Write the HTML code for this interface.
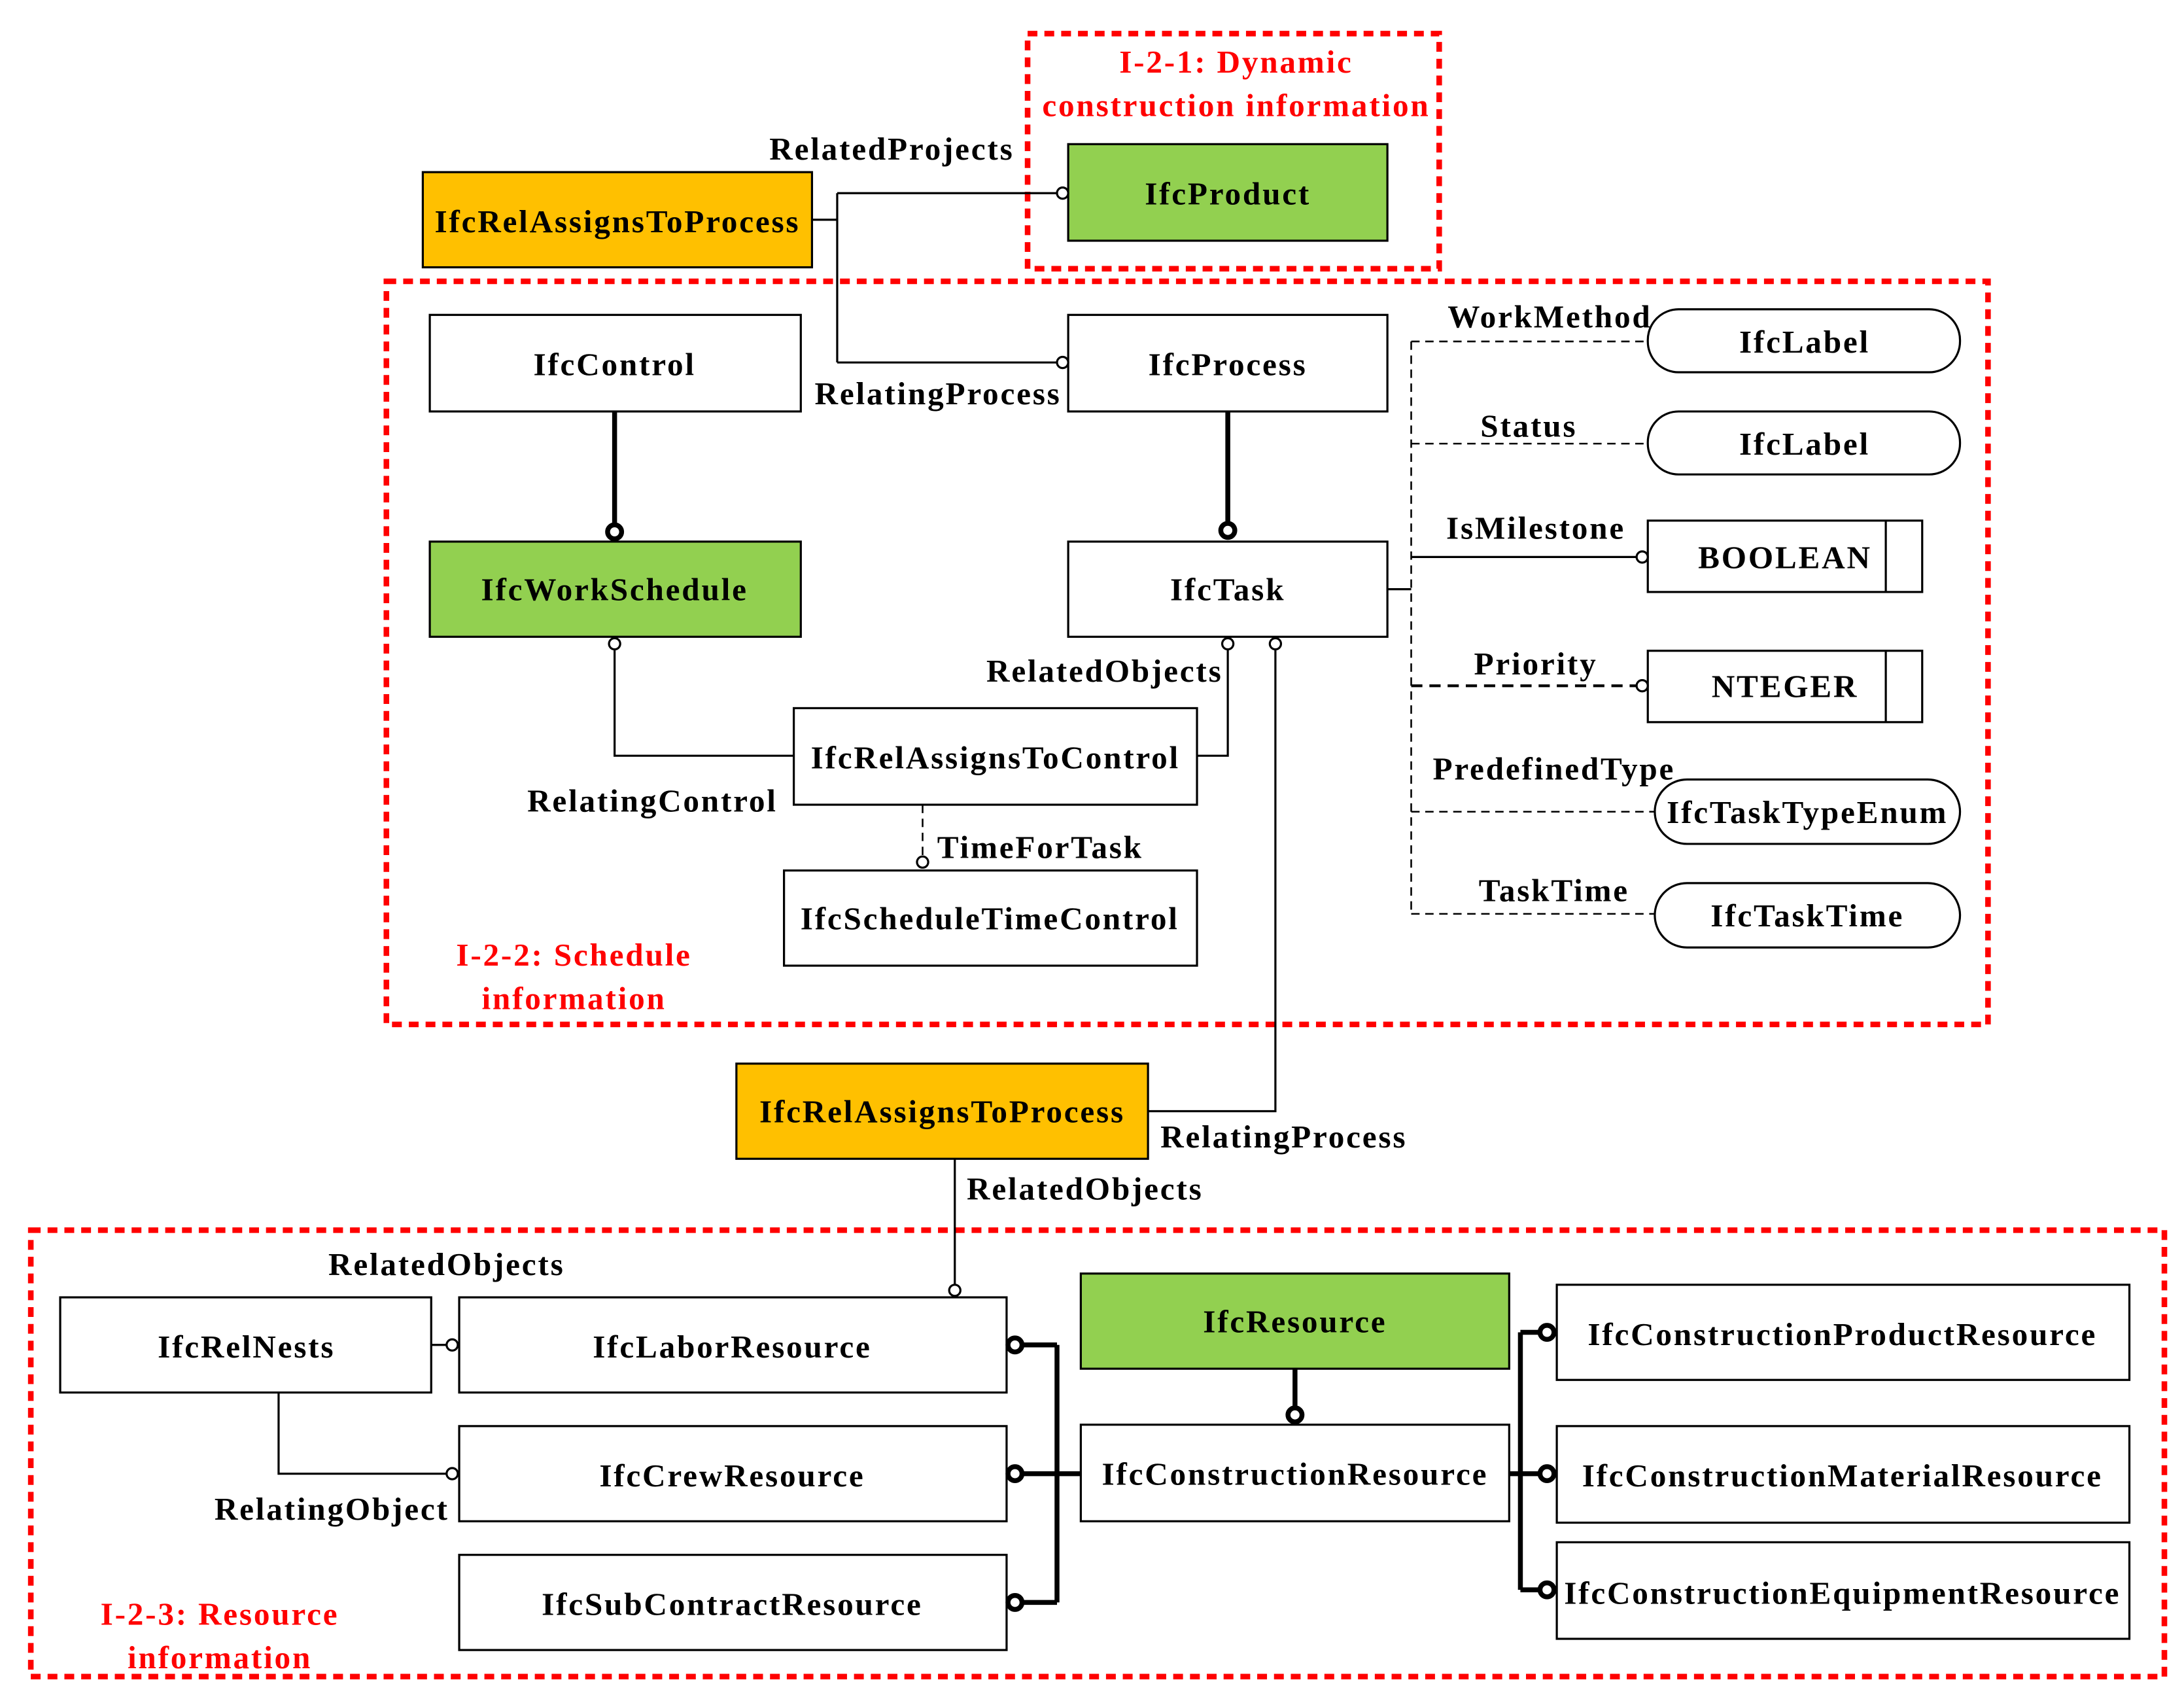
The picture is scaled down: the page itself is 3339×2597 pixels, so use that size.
<!DOCTYPE html>
<html><head><meta charset="utf-8"><style>html,body{margin:0;padding:0;background:#fff}svg{display:block}</style></head><body>
<svg width="3339" height="2597" viewBox="0 0 1560 1214" preserveAspectRatio="none" xmlns="http://www.w3.org/2000/svg" font-family="Liberation Serif, serif" font-weight="bold" font-size="23" letter-spacing="1.3">
<g fill="none" stroke="#f00" stroke-width="4" stroke-dasharray="7,5">
<rect x="734" y="24" width="294" height="168"/>
<rect x="276" y="201" width="1144" height="531"/>
<rect x="22" y="879" width="1524" height="319"/>
</g>
<g stroke="#000" stroke-width="1.5">
<rect x="302" y="123" width="278" height="68" fill="#FFC000"/>
<rect x="763" y="103" width="228" height="69" fill="#92D050"/>
<rect x="307" y="225" width="265" height="69" fill="#fff"/>
<rect x="763" y="225" width="228" height="69" fill="#fff"/>
<rect x="307" y="387" width="265" height="68" fill="#92D050"/>
<rect x="763" y="387" width="228" height="68" fill="#fff"/>
<rect x="567" y="506" width="288" height="69" fill="#fff"/>
<rect x="560" y="622" width="295" height="68" fill="#fff"/>
<rect x="1177" y="221" width="223" height="45" rx="22" fill="#fff"/>
<rect x="1177" y="294" width="223" height="45" rx="22" fill="#fff"/>
<rect x="1177" y="372" width="196" height="51" fill="#fff"/>
<line x1="1347" y1="372" x2="1347" y2="423"/>
<rect x="1177" y="465" width="196" height="51" fill="#fff"/>
<line x1="1347" y1="465" x2="1347" y2="516"/>
<rect x="1182" y="557" width="218" height="46" rx="23" fill="#fff"/>
<rect x="1182" y="631" width="218" height="46" rx="23" fill="#fff"/>
<rect x="526" y="760" width="294" height="68" fill="#FFC000"/>
<rect x="43" y="927" width="265" height="68" fill="#fff"/>
<rect x="328" y="927" width="391" height="68" fill="#fff"/>
<rect x="328" y="1019" width="391" height="68" fill="#fff"/>
<rect x="328" y="1111" width="391" height="68" fill="#fff"/>
<rect x="772" y="910" width="306" height="68" fill="#92D050"/>
<rect x="772" y="1018" width="306" height="69" fill="#fff"/>
<rect x="1112" y="918" width="409" height="68" fill="#fff"/>
<rect x="1112" y="1019" width="409" height="69" fill="#fff"/>
<rect x="1112" y="1102" width="409" height="69" fill="#fff"/>
</g>
<g fill="none" stroke="#000" stroke-width="1.5">
<polyline points="580,157 598,157"/><line x1="598" y1="138" x2="598" y2="259"/>
<line x1="598" y1="138" x2="755" y2="138"/><line x1="598" y1="259" x2="755" y2="259"/>
<polyline points="439,456 439,540 567,540"/>
<polyline points="877,456 877,540 855,540"/>
<polyline points="911,456 911,794 820,794"/>
<line x1="682" y1="828" x2="682" y2="918"/>
<line x1="308" y1="961" x2="319" y2="961"/>
<polyline points="199,995 199,1053 319,1053"/>
<line x1="991" y1="421" x2="1008" y2="421"/>
<polyline points="1008,398 1169,398"/>
</g>
<g fill="none" stroke="#000" stroke-width="1.2" stroke-dasharray="6,4">
<line x1="1008" y1="244" x2="1008" y2="653"/>
<line x1="1008" y1="244" x2="1177" y2="244"/>
<line x1="1008" y1="317" x2="1177" y2="317"/>
<line x1="1008" y1="580" x2="1182" y2="580"/>
<line x1="1008" y1="653" x2="1182" y2="653"/>
<line x1="659" y1="575" x2="659" y2="612"/>
</g>
<line x1="1008" y1="490" x2="1169" y2="490" stroke="#000" stroke-width="2" stroke-dasharray="8,5"/>
<g fill="none" stroke="#000" stroke-width="3.5">
<line x1="439" y1="294" x2="439" y2="375"/>
<line x1="877" y1="294" x2="877" y2="374"/>
<line x1="730" y1="961" x2="755" y2="961"/>
<line x1="730" y1="1053" x2="772" y2="1053"/>
<line x1="730" y1="1145" x2="755" y2="1145"/>
<line x1="755" y1="961" x2="755" y2="1145"/>
<line x1="925" y1="978" x2="925" y2="1007"/>
<line x1="1078" y1="1053" x2="1100" y2="1053"/>
<line x1="1086" y1="952" x2="1086" y2="1136"/>
<line x1="1086" y1="952" x2="1100" y2="952"/>
<line x1="1086" y1="1136" x2="1100" y2="1136"/>
</g>
<g fill="#fff" stroke="#000" stroke-width="1.5">
<circle cx="759" cy="138" r="4"/><circle cx="759" cy="259" r="4"/>
<circle cx="439" cy="460" r="4"/><circle cx="877" cy="460" r="4"/><circle cx="911" cy="460" r="4"/>
<circle cx="659" cy="616" r="4"/><circle cx="682" cy="922" r="4"/>
<circle cx="323" cy="961" r="4"/><circle cx="323" cy="1053" r="4"/>
<circle cx="1173" cy="398" r="4"/><circle cx="1173" cy="490" r="4"/>
</g>
<g fill="#fff" stroke="#000" stroke-width="3.5">
<circle cx="439" cy="380" r="5"/><circle cx="877" cy="379" r="5"/>
<circle cx="725" cy="961" r="5"/><circle cx="725" cy="1053" r="5"/><circle cx="725" cy="1145" r="5"/>
<circle cx="925" cy="1011" r="5"/>
<circle cx="1105" cy="952" r="5"/><circle cx="1105" cy="1053" r="5"/><circle cx="1105" cy="1136" r="5"/>
</g>
<g text-anchor="middle" fill="#000">
<text x="441" y="166">IfcRelAssignsToProcess</text>
<text x="877" y="146">IfcProduct</text>
<text x="439" y="268">IfcControl</text>
<text x="877" y="268">IfcProcess</text>
<text x="439" y="429">IfcWorkSchedule</text>
<text x="877" y="429">IfcTask</text>
<text x="711" y="549">IfcRelAssignsToControl</text>
<text x="707" y="664">IfcScheduleTimeControl</text>
<text x="1289" y="252">IfcLabel</text>
<text x="1289" y="325">IfcLabel</text>
<text x="1275" y="406">BOOLEAN</text>
<text x="1275" y="498">NTEGER</text>
<text x="1291" y="588">IfcTaskTypeEnum</text>
<text x="1291" y="662">IfcTaskTime</text>
<text x="673" y="802">IfcRelAssignsToProcess</text>
<text x="176" y="970">IfcRelNests</text>
<text x="523" y="970">IfcLaborResource</text>
<text x="523" y="1062">IfcCrewResource</text>
<text x="523" y="1154">IfcSubContractResource</text>
<text x="925" y="952">IfcResource</text>
<text x="925" y="1061">IfcConstructionResource</text>
<text x="1316" y="961">IfcConstructionProductResource</text>
<text x="1316" y="1062">IfcConstructionMaterialResource</text>
<text x="1316" y="1146">IfcConstructionEquipmentResource</text>
<text x="637" y="114">RelatedProjects</text>
<text x="670" y="289">RelatingProcess</text>
<text x="1107" y="234">WorkMethod</text>
<text x="1092" y="312">Status</text>
<text x="1097" y="385">IsMilestone</text>
<text x="1097" y="482">Priority</text>
<text x="1110" y="557">PredefinedType</text>
<text x="1110" y="644">TaskTime</text>
<text x="789" y="487">RelatedObjects</text>
<text x="466" y="580">RelatingControl</text>
<text x="743" y="613">TimeForTask</text>
<text x="917" y="820">RelatingProcess</text>
<text x="775" y="857">RelatedObjects</text>
<text x="319" y="911">RelatedObjects</text>
<text x="237" y="1086">RelatingObject</text>
</g>
<g text-anchor="middle" fill="#f00">
<text x="883" y="52">I-2-1: Dynamic</text>
<text x="883" y="83">construction information</text>
<text x="410" y="690">I-2-2: Schedule</text>
<text x="410" y="721">information</text>
<text x="157" y="1161">I-2-3: Resource</text>
<text x="157" y="1192">information</text>
</g>
</svg>
</body></html>
